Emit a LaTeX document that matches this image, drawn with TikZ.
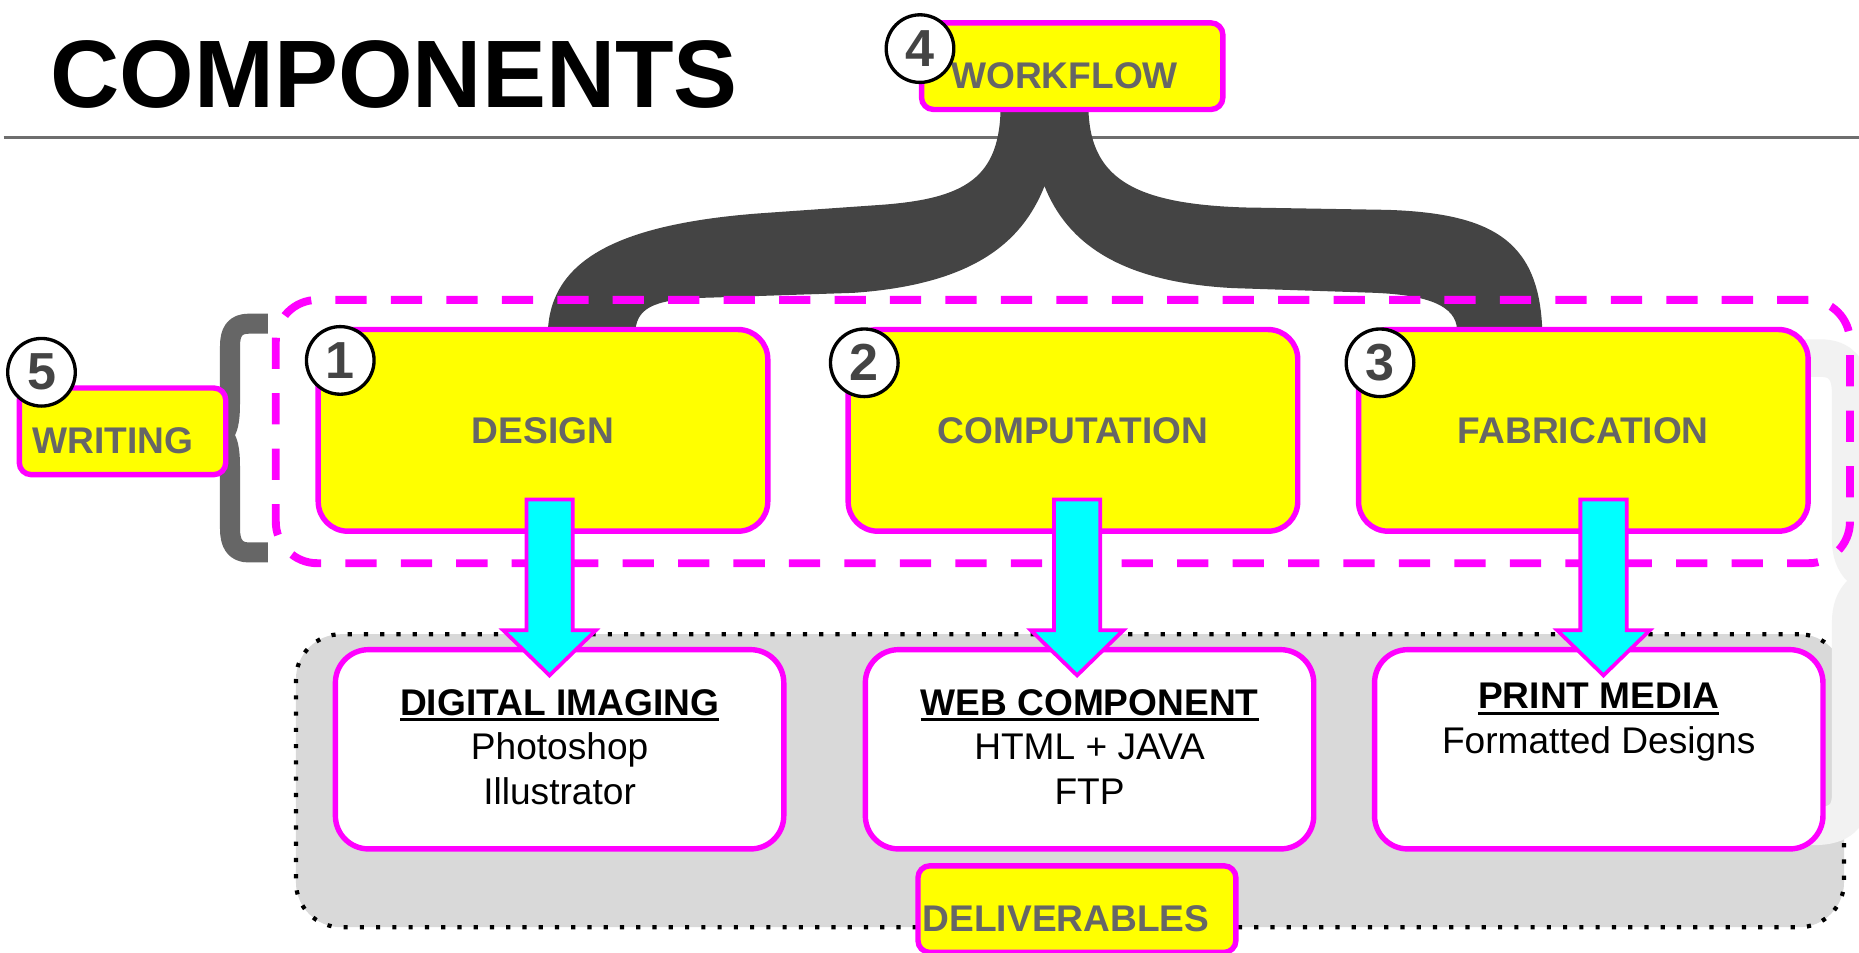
\documentclass[tikz,border=0pt]{standalone}
\usepackage{fontspec}
\setmainfont{Liberation Sans}
\usepackage{tikz}
\usetikzlibrary{positioning, calc, backgrounds}
\definecolor{hotpink}{HTML}{FF00FF}
\definecolor{lemon}{HTML}{FFFF00}
\definecolor{aqua}{HTML}{00FFFF}
\definecolor{slate}{HTML}{444444}
\definecolor{labelgray}{HTML}{666666}
\definecolor{bracegray}{HTML}{666666}
\definecolor{rulegray}{HTML}{6E6E6E}
\definecolor{panelgray}{HTML}{D9D9D9}
\definecolor{ghost}{HTML}{F2F2F2}
\tikzset{
  stage/.style={rectangle, rounded corners=0.25cm, draw=hotpink, line width=1.3pt, fill=lemon, text=labelgray,
    font=\bfseries\fontsize{8.9}{10.6}\selectfont, minimum width=3.79cm, minimum height=1.70cm, inner sep=0pt},
  deliv/.style={rectangle, rounded corners=0.28cm, draw=hotpink, line width=1.3pt, fill=white,
    minimum width=3.78cm, minimum height=1.68cm, inner sep=0pt},
  dtxt/.style={font=\fontsize{8.9}{10.7}\selectfont, align=center, inner sep=0pt, text=black},
  tag/.style={rectangle, rounded corners=0.1cm, draw=hotpink, line width=1.3pt, fill=lemon, text=labelgray,
    font=\bfseries\fontsize{8.9}{10.6}\selectfont, align=left, inner ysep=0pt,
    text height=0.55cm, text depth=0.18cm, anchor=north west},
  num/.style={circle, draw=black, line width=0.8pt, fill=white, text=slate,
    font=\bfseries\fontsize{12.5}{14}\selectfont, minimum size=0.57cm, inner sep=0pt},
  lane/.style={rectangle, rounded corners=0.35cm, draw=hotpink, line width=1.9pt, dash pattern=on 7.5pt off 5.8pt},
  panel/.style={rectangle, rounded corners=0.38cm, fill=panelgray, draw=black, line width=1pt, dash pattern=on 1pt off 2.9pt},
  blockarr/.style={draw=hotpink, line width=0.9pt, fill=aqua, line join=miter},
  wfbrace/.style={fill=slate},
  wrbrace/.style={draw=bracegray, line width=4.8pt, line join=round},
  ghostbrace/.style={draw=ghost, line width=9pt},
  ttl/.style={font=\bfseries\fontsize{23}{27}\selectfont, inner sep=0pt},
}
\newcommand{\DelHead}[1]{\setbox0\hbox{\bfseries #1}\rlap{\rule[-1.4pt]{\wd0}{0.75pt}}\box0}
\newcommand{\FlowArrow}[3]{%
  \draw[blockarr] let \p1=(#1), \p2=(#2.south), \p3=(#3.north) in
    (\x1-0.195cm,\y2+0.29cm) -- (\x1+0.195cm,\y2+0.29cm) -- (\x1+0.195cm,\y3+0.14cm)
    -- (\x1+0.39cm,\y3+0.14cm) -- (\x1,\y3-0.24cm) -- (\x1-0.39cm,\y3+0.14cm)
    -- (\x1-0.195cm,\y3+0.14cm) -- cycle;}

\begin{document}
\begin{tikzpicture}[x=0.01cm, y=-0.01cm]
\useasboundingbox (0,0) rectangle (1568,803);

% title
\node[ttl, anchor=base west] (title) at (42,91) {COMPONENTS};

% tags
\node[tag, inner xsep=0.25cm, text width=2.04cm] (Twf) at (775,17) {WORKFLOW};
\node[tag, inner xsep=0.11cm, text width=1.52cm] (Twr) at (14,325) {WRITING};

% stages
\node[stage] (Sdes)  at (458,363)    {DESIGN};
\node[stage] (Scomp) at (905,363)    {COMPUTATION};
\node[stage] (Sfab)  at (1335.5,363) {FABRICATION};

% deliverables
\node[deliv] (Dimg)   at (472,632)    {};
\node[deliv] (Dweb)   at (919,632)    {};
\node[deliv] (Dprint) at (1348.5,632) {};
\node[dtxt, below=0.35cm of Dimg.north]   (Timg)   {\DelHead{DIGITAL IMAGING}\\Photoshop\\Illustrator};
\node[dtxt, below=0.35cm of Dweb.north]   (Tweb)   {\DelHead{WEB COMPONENT}\\HTML + JAVA\\FTP};
\node[dtxt, below=0.30cm of Dprint.north] (Tprint) {\DelHead{PRINT MEDIA}\\Formatted Designs};

\node[tag, inner xsep=0.04cm, text width=2.60cm] (Tdel) at (772,728) {DELIVERABLES};

\begin{scope}[on background layer]
  \fill[white] (0,0) rectangle (1568,803);
  \draw[rulegray, line width=0.8pt] (3,116) -- (1568,116);
  \node[panel, minimum width=13.05cm, minimum height=2.47cm] (pan) at (902.5,658.5) {};
  \begin{scope}
    \clip (0,0) rectangle (1568,803);
    \draw[ghostbrace] (1505,302) -- (1535,302) .. controls (1553,302) and (1561,312) .. (1561,332)
      -- (1561,455) .. controls (1561,476) and (1572,488) .. (1600,490)
      .. controls (1572,492) and (1561,504) .. (1561,525)
      -- (1561,670) .. controls (1561,688) and (1552,697) .. (1530,697) -- (1500,697);
  \end{scope}
  % workflow brace
  \fill[wfbrace] (844,88) .. controls (844,150) and (815,168) .. (740,173)
    -- (640,180) .. controls (510,190) and (462,225) .. (462,284)
    -- (536,284) -- (536,278) .. controls (538,258) and (555,252) .. (600,251)
    -- (720,247) .. controls (820,240) and (862,205) .. (881,157)
    .. controls (900,205) and (945,238) .. (1040,243)
    -- (1160,247) .. controls (1205,249) and (1228,258) .. (1229,278) -- (1229,284)
    -- (1301,284) .. controls (1300,205) and (1262,180) .. (1170,177)
    -- (1050,175) .. controls (955,172) and (918,150) .. (918,88) -- cycle;
  \node[lane, minimum width=13.27cm, minimum height=2.22cm] (grp) at (896.5,364) {};
  % writing brace
  \coordinate (brT) at (226,273);
  \coordinate (brB) at (226,466);
  \draw[wrbrace] (brT) -- (210,273) .. controls (198,273) and (194,280) .. (194,292) -- (194,340)
    .. controls (194,356) and (192,363) .. (188,367) .. controls (192,371) and (194,378) .. (194,394)
    -- (194,446) .. controls (194,458) and (198,466) .. (210,466) -- (brB);
\end{scope}

% arrows
\coordinate (ax1) at (463.5,0);
\coordinate (ax2) at (908.5,0);
\coordinate (ax3) at (1352.5,0);
\FlowArrow{ax1}{Sdes}{Dimg}
\FlowArrow{ax2}{Scomp}{Dweb}
\FlowArrow{ax3}{Sfab}{Dprint}

% numbers
\node[num] (N4) at (776,41)  {4};
\node[num] (N5) at (35,314)  {5};
\node[num] (N1) at (287,304) {1};
\node[num] (N2) at (729,306) {2};
\node[num] (N3) at (1164,306) {3};
\end{tikzpicture}
\end{document}
